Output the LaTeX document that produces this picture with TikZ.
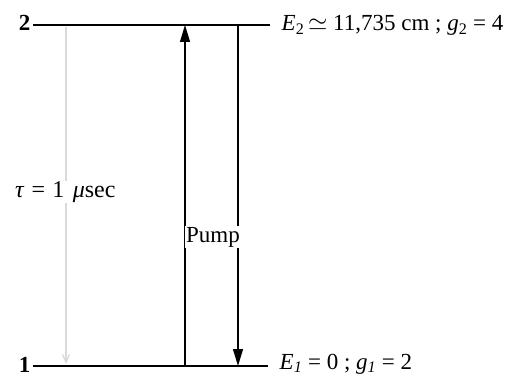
\documentclass[tikz,border=0pt]{standalone}
\usepackage{fontspec}
\setmainfont{Liberation Serif}
\usetikzlibrary{arrows.meta}
\begin{document}
\begin{tikzpicture}[x=1pt,y=-1pt,
  txt/.style={font=\fontsize{23}{26}\selectfont, inner sep=0.5pt},
  level/.style={line width=1.3pt},
  trans/.style={line width=1.3pt},
  tip/.style={-{Triangle[length=17pt,width=10pt]}},
  decay/.style={line width=1.3pt, black!15, -{Straight Barb[length=8pt,width=7pt]}}]
\useasboundingbox (0,0) rectangle (516,377);
% levels
\coordinate (u0) at (33,25); \coordinate (u1) at (270,25);
\coordinate (l0) at (33,366); \coordinate (l1) at (268,366);
\draw[level] (u0) -- (u1);
\draw[level] (l0) -- (l1);
\node[txt, anchor=base east] (n2) at (31,31) {\textbf{2}};
\node[txt, anchor=base east] (n1) at (31,372) {\textbf{1}};
\node[txt, anchor=base west] (e2) at (281,31) {\textit{E}\textsubscript{2}\,$\simeq$ 11,735 cm ; \textit{g}\textsubscript{2} = 4};
\node[txt, anchor=base west] (e1) at (279,369) {\textit{E}\textsubscript{\textit{1}} = 0 ; \textit{g}\textsubscript{\textit{1}} = 2};
% transitions
\coordinate (pb) at (185,366); \coordinate (pt) at (185,25);
\coordinate (db) at (238,366); \coordinate (dt) at (238,25);
\coordinate (gb) at (66,364); \coordinate (gt) at (66,27);
\draw[decay] (gt) -- (gb);
\draw[trans, tip] (pb) -- (pt);
\draw[trans, tip] (dt) -- (db);
\node[txt, fill=white, anchor=west, inner sep=1pt] (pump) at (185,237) {Pump};
\node[txt, fill=white, anchor=west, inner xsep=2pt, font=\fontsize{24}{26}\selectfont] (tau) at (13,192) {\textit{τ}\hspace{0.3em}=\hspace{0.3em}1\hspace{0.35em}\textit{μ}sec};
\end{tikzpicture}
\end{document}
